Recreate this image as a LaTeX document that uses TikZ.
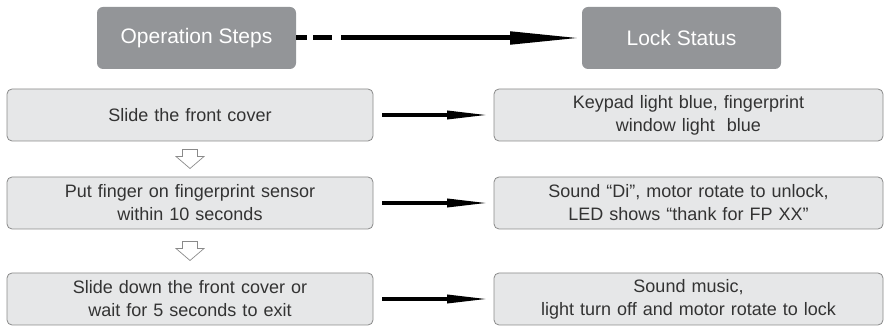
\documentclass[tikz,border=0pt]{standalone}
\usepackage{fontspec}
\setmainfont{Liberation Sans}
\usetikzlibrary{arrows.meta,positioning,calc}

\definecolor{headgray}{HTML}{939598}
\definecolor{boxgray}{HTML}{E6E7E8}
\definecolor{edgegray}{HTML}{8A8A8A}
\definecolor{textgray}{HTML}{333333}

\newcommand{\hollowdown}[1]{%
  \draw[hollowarr] ([shift={(-7.5,9.5)}]#1) -- ([shift={(7.5,9.5)}]#1)
    -- ([shift={(7.5,2.5)}]#1) -- ([shift={(14,2.5)}]#1)
    -- ([shift={(0,-9.5)}]#1) -- ([shift={(-14,2.5)}]#1)
    -- ([shift={(-7.5,2.5)}]#1) -- cycle;}

\begin{document}
\begin{tikzpicture}[x=1pt, y=1pt,
    header/.style={rectangle, fill=headgray, text=white, rounded corners=6pt, minimum width=199pt, minimum height=62pt, inner sep=0pt, outer sep=0pt, font=\fontsize{21}{25}\selectfont},
    stepbox/.style={rectangle, draw=edgegray, line width=0.8pt, fill=boxgray, text=textgray, rounded corners=5pt, text width=366pt, align=center, minimum height=52pt, inner sep=0pt, outer sep=0pt, font=\fontsize{18}{23}\selectfont},
    statebox/.style={stepbox, text width=389pt},
    bigline/.style={draw, line width=5pt, -{Triangle[length=72pt, width=12pt]}},
    line/.style={draw, line width=3.5pt, -{Triangle[length=42pt, width=8pt]}},
    hollowarr/.style={draw=edgegray, line width=0.7pt, fill=white, line join=miter}]

    \useasboundingbox (0,0) rectangle (886,-328);

    % Headers
    \node [header] (opsteps) at (196.5,-38) {Operation Steps};
    \node [header, right=286pt of opsteps] (lockst) {Lock Status};

    % Steps
    \node [stepbox] (step1) at (190,-115) {Slide the front cover};
    \node [stepbox, below=36pt of step1] (step2) {Put finger on fingerprint sensor\\within 10 seconds};
    \node [stepbox, below=44pt of step2] (step3) {Slide down the front cover or\\wait for 5 seconds to exit};

    % Status
    \node [statebox, right=121pt of step1] (state1) {Keypad light blue, fingerprint\\window light~ blue};
    \node [statebox, right=121pt of step2] (state2) {Sound “Di”, motor rotate to unlock,\\LED shows “thank for FP XX”};
    \node [statebox, right=121pt of step3] (state3) {Sound music,\\light turn off and motor rotate to lock};

    % Edges
    \coordinate (dashend) at ([xshift=45pt]opsteps.east);
    \draw [line width=5pt, dash pattern=on 11pt off 6pt on 19pt off 40pt] (opsteps.east) -- (dashend);
    \path [bigline] (dashend) -- (lockst.west);
    \path [line] ([xshift=9pt]step1.east) -- ([xshift=-5pt]state1.west);
    \path [line] ([xshift=9pt]step2.east) -- ([xshift=-5pt]state2.west);
    \path [line] ([xshift=9pt]step3.east) -- ([xshift=-5pt]state3.west);

    % Hollow arrows
    \coordinate (gap1) at ($(step1.south)!0.5!(step2.north)$);
    \coordinate (gap2) at ($(step2.south)!0.5!(step3.north)$);
    \hollowdown{gap1}
    \hollowdown{gap2}
  \end{tikzpicture}
\end{document}
